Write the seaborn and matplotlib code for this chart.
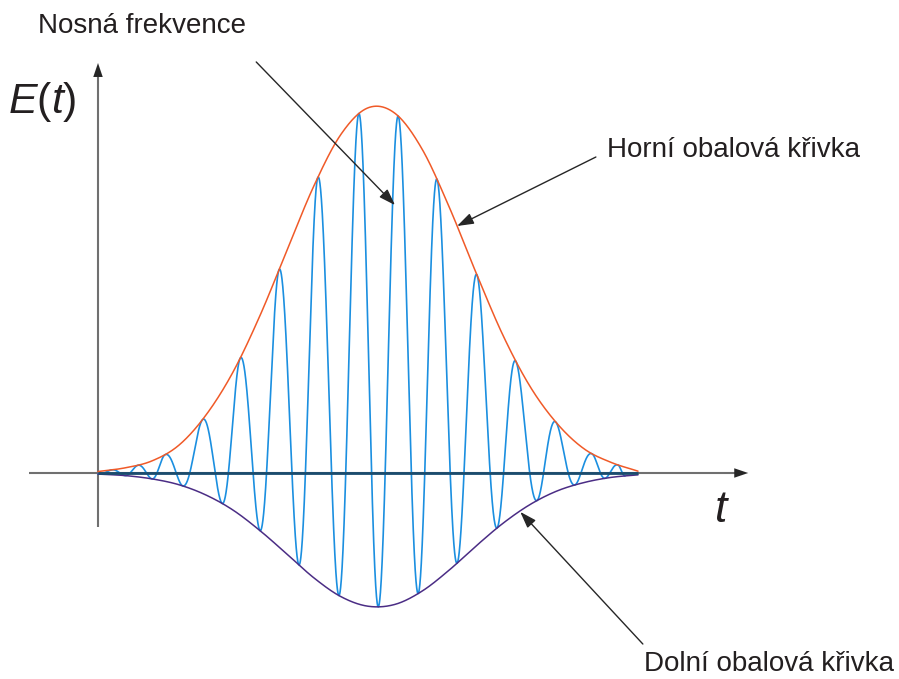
import numpy as np
import pandas as pd
import matplotlib
matplotlib.use("Agg")
import matplotlib.pyplot as plt
import seaborn as sns

# Envelope samples: time in arbitrary units, field normalised to the upper peak
env_t = [0.0, 0.5, 1.0, 1.5, 2.0, 2.5, 3.0, 3.5, 4.0, 4.5, 5.0,
         5.5, 6.0, 6.5, 7.0, 7.5, 8.0, 8.5, 9.0, 9.5, 10.0]
upper_env = [0.004, 0.014, 0.033, 0.076, 0.158, 0.275, 0.429, 0.607, 0.783, 0.923, 0.995,
             0.980, 0.883, 0.726, 0.546, 0.375, 0.236, 0.135, 0.066, 0.029, 0.005]
lower_env = [-0.003, -0.007, -0.016, -0.032, -0.060, -0.101, -0.157, -0.221, -0.286, -0.337, -0.363,
             -0.358, -0.322, -0.265, -0.199, -0.137, -0.086, -0.049, -0.026, -0.012, -0.005]

# Carrier turning points: maxima touch the upper envelope, minima the lower one
carrier_max_t = [0.26, 0.74, 1.24, 1.93, 2.63, 3.35, 4.07, 4.83, 5.56, 6.28, 7.02,
                 7.74, 8.48, 9.15, 9.63]
carrier_min_t = [0.50, 1.00, 1.57, 2.30, 3.00, 3.72, 4.46, 5.19, 5.93, 6.65, 7.39,
                 8.13, 8.83, 9.39]
carrier_start_t = 0.0
carrier_end_t = 9.76

labels = {
    "carrier": "Nosná frekvence",
    "upper": "Horní obalová křivka",
    "lower": "Dolní obalová křivka",
    "ylabel": r"$E(t)$",
    "xlabel": r"$t$",
}

C_CARRIER = "#1b8fe0"
C_UPPER = "#f05a28"
C_LOWER = "#4b2d85"
C_BASE = "#1a4c6e"
C_AXIS = "#707070"
C_ARROW = "#262626"
C_TEXT = "#231f20"


def smooth(xs, ys, grid):
    """Cubic Hermite curve through the sampled points."""
    xs = np.asarray(xs, float)
    ys = np.asarray(ys, float)
    m = np.gradient(ys, xs)
    i = np.clip(np.searchsorted(xs, grid) - 1, 0, len(xs) - 2)
    h = xs[i + 1] - xs[i]
    s = (grid - xs[i]) / h
    h00 = 2 * s**3 - 3 * s**2 + 1
    h10 = s**3 - 2 * s**2 + s
    h01 = -2 * s**3 + 3 * s**2
    h11 = s**3 - s**2
    return h00 * ys[i] + h10 * h * m[i] + h01 * ys[i + 1] + h11 * h * m[i + 1]


sns.set_theme(style="white")
plt.rcParams["font.family"] = ["Liberation Sans", "DejaVu Sans"]
plt.rcParams["mathtext.fontset"] = "custom"
plt.rcParams["mathtext.it"] = "Liberation Sans:italic"
plt.rcParams["mathtext.rm"] = "Liberation Sans"

fig = plt.figure(figsize=(8.99, 6.79), dpi=100)
ax = fig.add_axes([0, 0, 1, 1])
ax.set_xlim(-98 / 54, 801 / 54)
ax.set_ylim(-206 / 367, 473 / 367)
ax.axis("off")

# envelopes
tg = np.linspace(env_t[0], env_t[-1], 2000)
env_df = pd.DataFrame({"t": tg,
                       "upper": smooth(env_t, upper_env, tg),
                       "lower": smooth(env_t, lower_env, tg)})

# carrier: phase advances by pi between successive turning points
turn_t = [carrier_start_t] + sorted(carrier_max_t + carrier_min_t) + [carrier_end_t]
turn_phase = np.pi * (np.arange(len(turn_t)) - 1)
tc = np.linspace(carrier_start_t, carrier_end_t, 4000)
phase = np.interp(tc, turn_t, turn_phase)
up_c = smooth(env_t, upper_env, tc)
lo_c = smooth(env_t, lower_env, tc)
car_df = pd.DataFrame({"t": tc, "E": lo_c + (up_c - lo_c) * (1 + np.cos(phase)) / 2})

# axes
ax.plot([-1.28, 11.8], [0, 0], color=C_AXIS, lw=1.5, zorder=1, solid_capstyle="butt")
ax.plot([0, 0], [-0.147, 1.08], color=C_AXIS, lw=1.5, zorder=1, solid_capstyle="butt")
head = dict(arrowstyle="-|>,head_length=0.5,head_width=0.17", color=C_ARROW,
            lw=0.01, mutation_scale=20, shrinkA=0, shrinkB=0)
ax.annotate("", xy=(12.04, 0), xytext=(11.6, 0), arrowprops=head, zorder=5)
ax.annotate("", xy=(0, 1.117), xytext=(0, 1.05), arrowprops=head, zorder=5)

sns.lineplot(data=car_df, x="t", y="E", color=C_CARRIER, lw=1.2, sort=False,
             estimator=None, ax=ax, zorder=2)
sns.lineplot(data=env_df, x="t", y="upper", color=C_UPPER, lw=1.1, sort=False,
             estimator=None, ax=ax, zorder=3)
sns.lineplot(data=env_df, x="t", y="lower", color=C_LOWER, lw=1.1, sort=False,
             estimator=None, ax=ax, zorder=3)
ax.plot([env_t[0], env_t[-1]], [0, 0], color=C_BASE, lw=2.0, zorder=4,
        solid_capstyle="butt")

# callouts
pointer = dict(arrowstyle="-|>,head_length=0.5,head_width=0.17", color=C_ARROW,
               lw=1.0, mutation_scale=20, shrinkA=0, shrinkB=0)
ax.annotate("", xy=(5.50, 0.730), xytext=(2.93, 1.120), arrowprops=pointer, zorder=6)
ax.annotate("", xy=(6.65, 0.673), xytext=(9.22, 0.861), arrowprops=pointer, zorder=6)
ax.annotate("", xy=(7.82, -0.106), xytext=(10.09, -0.466), arrowprops=pointer, zorder=6)

ax.text(-1.111, 1.199, labels["carrier"], fontsize=20, color=C_TEXT, va="baseline", ha="left")
ax.text(9.426, 0.861, labels["upper"], fontsize=20, color=C_TEXT, va="baseline", ha="left")
ax.text(10.11, -0.540, labels["lower"], fontsize=20, color=C_TEXT, va="baseline", ha="left")
ax.text(-1.66, 0.981, labels["ylabel"], fontsize=31, color=C_TEXT, va="baseline", ha="left")
ax.text(11.40, -0.1335, labels["xlabel"], fontsize=32, color=C_TEXT, va="baseline", ha="left")

fig.savefig("out.png", dpi=100, facecolor="white")
